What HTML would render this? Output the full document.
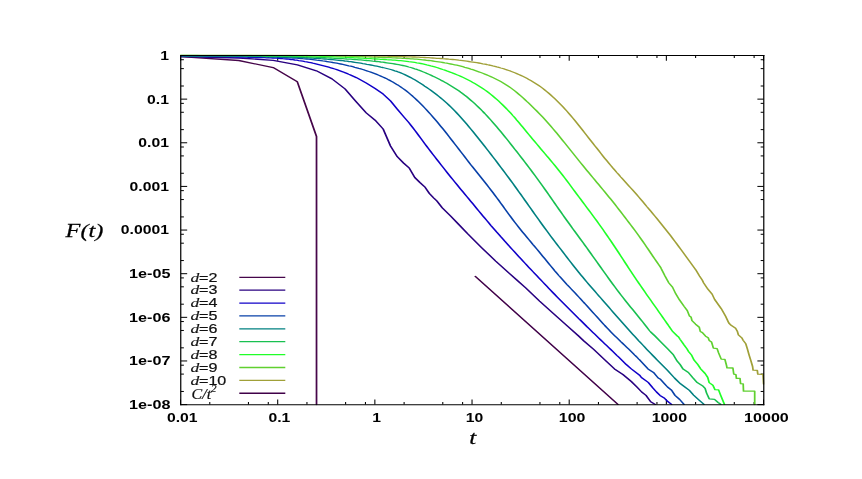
<!DOCTYPE html>
<html><head><meta charset="utf-8"><title>F(t)</title>
<style>html,body{margin:0;padding:0;background:#fff}svg{display:block}text{font-family:"Liberation Sans",sans-serif}.b{font-weight:bold;font-size:12.7px;fill:#000}.s{font-family:"Liberation Serif",serif;font-style:italic}.l{font-size:12.6px;fill:#111;stroke:#111;stroke-width:0.22px}</style></head><body>
<svg width="862" height="479" viewBox="0 0 862 479" style="will-change:transform">
<rect width="862" height="479" fill="#fff"/>
<path d="M180.53,404.6v-5.2M180.53,55.5v5.2M209.78,404.6v-2.6M209.78,55.5v2.6M248.45,404.6v-2.6M248.45,55.5v2.6M268.28,404.6v-2.6M268.28,55.5v2.6M277.70,404.6v-5.2M277.70,55.5v5.2M306.95,404.6v-2.6M306.95,55.5v2.6M345.61,404.6v-2.6M345.61,55.5v2.6M365.45,404.6v-2.6M365.45,55.5v2.6M374.86,404.6v-5.2M374.86,55.5v5.2M404.11,404.6v-2.6M404.11,55.5v2.6M442.78,404.6v-2.6M442.78,55.5v2.6M462.61,404.6v-2.6M462.61,55.5v2.6M472.03,404.6v-5.2M472.03,55.5v5.2M501.28,404.6v-2.6M501.28,55.5v2.6M539.95,404.6v-2.6M539.95,55.5v2.6M559.78,404.6v-2.6M559.78,55.5v2.6M569.20,404.6v-5.2M569.20,55.5v5.2M598.45,404.6v-2.6M598.45,55.5v2.6M637.11,404.6v-2.6M637.11,55.5v2.6M656.95,404.6v-2.6M656.95,55.5v2.6M666.36,404.6v-5.2M666.36,55.5v5.2M695.61,404.6v-2.6M695.61,55.5v2.6M734.28,404.6v-2.6M734.28,55.5v2.6M754.11,404.6v-2.6M754.11,55.5v2.6M763.53,404.6v-5.2M763.53,55.5v5.2" stroke="#000" stroke-width="1.05" fill="none"/>
<path d="M180.78,404.60h6.4M763.78,404.60h-6.4M180.78,391.46h3.1M763.78,391.46h-3.1M180.78,374.10h3.1M763.78,374.10h-3.1M180.78,365.19h3.1M763.78,365.19h-3.1M180.78,360.96h6.4M763.78,360.96h-6.4M180.78,347.83h3.1M763.78,347.83h-3.1M180.78,330.46h3.1M763.78,330.46h-3.1M180.78,321.55h3.1M763.78,321.55h-3.1M180.78,317.33h6.4M763.78,317.33h-6.4M180.78,304.19h3.1M763.78,304.19h-3.1M180.78,286.82h3.1M763.78,286.82h-3.1M180.78,277.92h3.1M763.78,277.92h-3.1M180.78,273.69h6.4M763.78,273.69h-6.4M180.78,260.55h3.1M763.78,260.55h-3.1M180.78,243.19h3.1M763.78,243.19h-3.1M180.78,234.28h3.1M763.78,234.28h-3.1M180.78,230.05h6.4M763.78,230.05h-6.4M180.78,216.91h3.1M763.78,216.91h-3.1M180.78,199.55h3.1M763.78,199.55h-3.1M180.78,190.64h3.1M763.78,190.64h-3.1M180.78,186.41h6.4M763.78,186.41h-6.4M180.78,173.28h3.1M763.78,173.28h-3.1M180.78,155.91h3.1M763.78,155.91h-3.1M180.78,147.00h3.1M763.78,147.00h-3.1M180.78,142.78h6.4M763.78,142.78h-6.4M180.78,129.64h3.1M763.78,129.64h-3.1M180.78,112.27h3.1M763.78,112.27h-3.1M180.78,103.37h3.1M763.78,103.37h-3.1M180.78,99.14h6.4M763.78,99.14h-6.4M180.78,86.00h3.1M763.78,86.00h-3.1M180.78,68.64h3.1M763.78,68.64h-3.1M180.78,59.73h3.1M763.78,59.73h-3.1M180.78,55.50h6.4M763.78,55.50h-6.4" stroke="#000" stroke-width="1.0" fill="none"/>
<clipPath id="c"><rect x="179.98" y="54.78" width="584.6" height="350.62"/></clipPath>
<g clip-path="url(#c)"><g transform="scale(1.347,1)">
<polyline points="134.21,56.7 177.27,60.5 202.82,67.6 220.74,81.8 234.98,136.5 234.98,404.6" fill="none" stroke="#46064a" stroke-width="1.3" stroke-linejoin="round" stroke-linecap="round"/>
<polyline points="134.21,56.5 177.27,58.0 202.82,60.3 220.77,64.8 234.90,70.8 246.47,78.9 256.13,88.9 264.50,101.8 271.88,112.9 278.48,120.2 284.45,129.0 289.90,146.0 294.92,156.7 299.56,163.0 303.89,168.2 307.93,177.5 311.73,182.5 315.31,186.8 318.70,193.4 321.91,197.8 324.28,200.9 328.36,207.9 334.60,216.2 340.24,224.0 347.29,233.9 357.68,247.8 368.00,261.1 378.32,273.6 383.67,280.0 390.27,287.8 400.59,301.1 410.91,313.6 421.31,326.1 429.55,336.0 433.48,341.0 440.76,349.4 449.00,359.8 456.20,368.9 462.44,374.5 468.67,381.5 472.75,386.8 476.39,392.0 479.58,395.4 483.07,401.8 486.49,404.4" fill="none" stroke="#280080" stroke-width="1.3" stroke-linejoin="round" stroke-linecap="round"/>
<polyline points="134.21,56.0 135.69,56.0 137.18,56.1 138.66,56.1 140.15,56.2 141.63,56.2 143.12,56.3 144.60,56.3 146.09,56.3 147.57,56.4 149.06,56.4 150.54,56.4 152.03,56.5 153.51,56.5 155.00,56.5 156.48,56.5 157.97,56.5 159.45,56.6 160.94,56.6 162.42,56.6 163.90,56.7 165.39,56.7 166.87,56.7 168.36,56.8 169.84,56.8 171.33,56.8 172.81,56.9 174.30,56.9 175.78,57.0 177.27,57.0 178.75,57.1 180.24,57.1 181.72,57.2 183.21,57.2 184.69,57.3 186.18,57.3 187.66,57.4 189.15,57.4 190.63,57.5 192.12,57.5 193.60,57.6 195.09,57.7 196.57,57.7 198.05,57.8 199.54,57.9 201.02,57.9 202.51,58.0 203.99,58.1 205.48,58.2 206.96,58.4 208.45,58.5 209.93,58.7 211.42,58.8 212.90,59.0 214.39,59.2 215.87,59.5 217.36,59.7 218.84,60.0 220.33,60.2 221.81,60.6 223.30,60.9 224.78,61.2 226.27,61.6 227.75,61.9 229.24,62.3 230.72,62.7 232.20,63.2 233.69,63.6 235.17,64.1 236.66,64.6 238.14,65.1 239.63,65.6 241.11,66.1 242.60,66.6 244.08,67.2 245.57,67.8 247.05,68.4 248.54,69.0 250.02,69.7 251.51,70.4 252.99,71.1 254.48,71.8 255.96,72.6 257.45,73.4 258.93,74.3 260.42,75.1 264.50,77.6 271.88,83.0 278.48,88.6 284.45,94.1 289.90,100.9 294.92,109.2 299.56,116.5 303.47,122.5 304.96,125.1 306.44,127.6 307.93,130.3 309.41,132.9 310.90,135.6 312.38,138.3 313.87,141.0 315.35,143.7 316.84,146.4 318.32,149.0 319.81,151.6 321.29,154.2 322.78,156.8 324.26,159.4 325.75,161.9 327.23,164.5 328.72,167.0 330.20,169.5 331.69,172.1 333.17,174.6 334.65,177.1 336.14,179.5 337.62,182.0 339.11,184.4 340.59,186.9 342.08,189.3 343.56,191.7 345.05,194.1 346.53,196.5 348.02,198.9 349.50,201.3 350.99,203.7 352.47,206.1 353.96,208.6 355.44,211.0 356.93,213.4 358.41,215.8 359.90,218.2 361.38,220.5 362.87,222.9 364.35,225.3 365.84,227.6 367.32,229.9 368.80,232.2 370.29,234.4 371.77,236.7 373.26,238.9 374.74,241.2 376.23,243.4 377.71,245.6 379.20,247.8 380.68,250.0 382.17,252.2 383.65,254.4 385.14,256.6 386.62,258.7 388.11,260.9 389.59,263.0 391.08,265.2 392.56,267.3 394.05,269.4 395.53,271.5 397.02,273.6 398.50,275.7 399.99,277.8 401.47,279.9 402.95,282.0 404.44,284.1 405.92,286.2 407.41,288.3 408.89,290.4 410.38,292.5 411.86,294.5 413.35,296.6 414.83,298.6 416.32,300.6 417.80,302.6 419.29,304.6 420.77,306.6 422.26,308.6 423.74,310.6 425.23,312.6 426.71,314.6 428.20,316.6 429.68,318.6 431.17,320.5 432.65,322.5 434.14,324.5 435.62,326.5 437.10,328.4 438.59,330.4 440.07,332.3 441.56,334.2 443.04,336.1 444.53,338.1 446.01,340.0 447.50,341.9 448.98,343.8 450.47,345.7 451.95,347.6 453.44,349.5 454.92,351.4 456.41,353.3 457.89,355.3 459.38,357.2 460.86,359.2 462.35,361.2 463.83,363.1 464.51,364.0 468.67,368.9 474.83,375.2 476.17,377.5 481.22,382.4 484.48,387.7 487.38,392.0 489.98,395.4 493.39,398.3 495.99,401.8 498.59,404.4" fill="none" stroke="#1000c8" stroke-width="1.3" stroke-linejoin="round" stroke-linecap="round"/>
<polyline points="134.21,55.8 135.69,55.8 137.18,55.8 138.66,55.9 140.15,55.9 141.63,55.9 143.12,55.9 144.60,56.0 146.09,56.0 147.57,56.0 149.06,56.0 150.54,56.0 152.03,56.0 153.51,56.1 155.00,56.1 156.48,56.1 157.97,56.1 159.45,56.1 160.94,56.1 162.42,56.1 163.90,56.2 165.39,56.2 166.87,56.2 168.36,56.2 169.84,56.2 171.33,56.3 172.81,56.3 174.30,56.3 175.78,56.3 177.27,56.4 178.75,56.4 180.24,56.4 181.72,56.4 183.21,56.5 184.69,56.5 186.18,56.5 187.66,56.6 189.15,56.6 190.63,56.7 192.12,56.7 193.60,56.7 195.09,56.8 196.57,56.8 198.05,56.9 199.54,57.0 201.02,57.0 202.51,57.1 203.99,57.1 205.48,57.2 206.96,57.3 208.45,57.4 209.93,57.5 211.42,57.6 212.90,57.6 214.39,57.8 215.87,57.9 217.36,58.0 218.84,58.1 220.33,58.2 221.81,58.4 223.30,58.5 224.78,58.7 226.27,58.8 227.75,59.0 229.24,59.2 230.72,59.4 232.20,59.6 233.69,59.8 235.17,60.1 236.66,60.3 238.14,60.6 239.63,60.9 241.11,61.1 242.60,61.5 244.08,61.8 245.57,62.1 247.05,62.5 248.54,62.8 250.02,63.2 251.51,63.6 252.99,64.0 254.48,64.4 255.96,64.8 257.45,65.3 258.93,65.8 260.42,66.2 261.90,66.7 263.39,67.3 264.87,67.8 266.35,68.4 267.84,68.9 269.32,69.5 270.81,70.2 272.29,70.8 273.78,71.5 275.26,72.2 276.75,72.9 278.23,73.6 279.72,74.4 281.20,75.2 282.69,76.1 284.17,77.0 285.66,77.9 287.14,78.8 288.63,79.9 290.11,80.9 291.60,82.0 293.08,83.2 294.57,84.4 296.05,85.6 297.54,87.0 299.02,88.4 300.50,89.8 301.99,91.3 303.47,92.9 304.96,94.6 306.44,96.3 307.93,98.1 309.41,100.0 310.90,101.9 312.38,103.9 313.87,105.9 315.35,108.0 316.84,110.1 318.32,112.3 319.81,114.5 321.29,116.8 322.78,119.1 324.26,121.4 325.75,123.8 327.23,126.3 328.72,128.7 330.20,131.2 331.69,133.7 333.17,136.3 334.65,138.8 336.14,141.4 337.62,144.0 339.11,146.5 340.59,149.1 342.08,151.7 343.56,154.3 345.05,156.9 346.53,159.5 348.02,162.1 349.50,164.7 350.99,167.2 352.47,169.7 353.96,172.2 355.44,174.7 356.93,177.2 358.41,179.7 359.90,182.2 361.38,184.7 362.87,187.3 364.35,189.8 365.84,192.4 367.32,195.1 368.80,197.7 370.29,200.4 371.77,203.2 373.26,205.9 374.74,208.7 376.23,211.5 377.71,214.2 379.20,216.9 380.68,219.6 382.17,222.2 383.65,224.8 385.14,227.3 386.62,229.8 388.11,232.3 389.59,234.7 391.08,237.1 392.56,239.5 394.05,241.9 395.53,244.3 397.02,246.6 398.50,249.0 399.99,251.4 401.47,253.8 402.95,256.3 404.44,258.7 405.92,261.1 407.41,263.6 408.89,266.0 410.38,268.4 411.86,270.8 413.35,273.1 414.83,275.5 416.32,277.7 417.80,279.9 419.29,282.1 420.77,284.3 422.26,286.4 423.74,288.5 425.23,290.6 426.71,292.7 428.20,294.9 429.68,297.0 431.17,299.2 432.65,301.4 434.14,303.5 435.62,305.7 437.10,307.9 438.59,310.1 440.07,312.3 441.56,314.5 443.04,316.7 444.53,318.9 446.01,321.1 447.50,323.3 448.98,325.5 450.47,327.6 451.95,329.7 453.44,331.8 454.92,333.8 456.41,335.8 457.89,337.7 459.38,339.6 460.86,341.6 462.35,343.5 463.83,345.4 465.32,347.3 466.80,349.2 468.29,351.1 469.77,353.1 471.25,355.1 472.74,357.0 474.22,359.1 474.83,359.8 481.07,368.9 485.15,372.4 488.64,378.0 490.35,379.3 493.39,383.8 495.55,387.0 498.59,390.2 501.11,395.4 504.60,399.5 507.80,404.4" fill="none" stroke="#0840a8" stroke-width="1.3" stroke-linejoin="round" stroke-linecap="round"/>
<polyline points="134.21,55.7 135.69,55.7 137.18,55.7 138.66,55.8 140.15,55.8 141.63,55.8 143.12,55.8 144.60,55.8 146.09,55.8 147.57,55.8 149.06,55.9 150.54,55.9 152.03,55.9 153.51,55.9 155.00,55.9 156.48,55.9 157.97,55.9 159.45,55.9 160.94,55.9 162.42,55.9 163.90,56.0 165.39,56.0 166.87,56.0 168.36,56.0 169.84,56.0 171.33,56.0 172.81,56.0 174.30,56.1 175.78,56.1 177.27,56.1 178.75,56.1 180.24,56.1 181.72,56.2 183.21,56.2 184.69,56.2 186.18,56.2 187.66,56.2 189.15,56.3 190.63,56.3 192.12,56.3 193.60,56.4 195.09,56.4 196.57,56.4 198.05,56.5 199.54,56.5 201.02,56.6 202.51,56.6 203.99,56.6 205.48,56.7 206.96,56.7 208.45,56.8 209.93,56.9 211.42,56.9 212.90,57.0 214.39,57.0 215.87,57.1 217.36,57.2 218.84,57.3 220.33,57.3 221.81,57.4 223.30,57.5 224.78,57.6 226.27,57.7 227.75,57.8 229.24,57.9 230.72,58.0 232.20,58.1 233.69,58.3 235.17,58.4 236.66,58.5 238.14,58.7 239.63,58.8 241.11,59.0 242.60,59.2 244.08,59.3 245.57,59.5 247.05,59.7 248.54,59.9 250.02,60.1 251.51,60.3 252.99,60.5 254.48,60.7 255.96,61.0 257.45,61.2 258.93,61.5 260.42,61.7 261.90,62.0 263.39,62.3 264.87,62.6 266.35,62.9 267.84,63.2 269.32,63.6 270.81,63.9 272.29,64.3 273.78,64.6 275.26,65.0 276.75,65.4 278.23,65.8 279.72,66.2 281.20,66.6 282.69,67.1 284.17,67.5 285.66,68.0 287.14,68.5 288.63,69.0 290.11,69.5 291.60,70.1 293.08,70.8 294.57,71.4 296.05,72.2 297.54,72.9 299.02,73.7 300.50,74.6 301.99,75.6 303.47,76.6 304.96,77.6 306.44,78.7 307.93,79.8 309.41,81.0 310.90,82.3 312.38,83.5 313.87,84.8 315.35,86.2 316.84,87.5 318.32,88.9 319.81,90.3 321.29,91.8 322.78,93.3 324.26,94.8 325.75,96.4 327.23,98.0 328.72,99.6 330.20,101.4 331.69,103.2 333.17,105.0 334.65,106.9 336.14,108.9 337.62,110.9 339.11,113.0 340.59,115.1 342.08,117.3 343.56,119.6 345.05,121.9 346.53,124.2 348.02,126.6 349.50,129.0 350.99,131.4 352.47,133.9 353.96,136.4 355.44,138.9 356.93,141.4 358.41,143.9 359.90,146.4 361.38,149.0 362.87,151.5 364.35,154.1 365.84,156.7 367.32,159.3 368.80,161.9 370.29,164.6 371.77,167.2 373.26,169.9 374.74,172.5 376.23,175.2 377.71,177.9 379.20,180.6 380.68,183.3 382.17,186.1 383.65,188.9 385.14,191.7 386.62,194.4 388.11,197.2 389.59,200.1 391.08,202.9 392.56,205.7 394.05,208.5 395.53,211.4 397.02,214.2 398.50,217.0 399.99,219.8 401.47,222.6 402.95,225.4 404.44,228.1 405.92,230.8 407.41,233.5 408.89,236.2 410.38,238.9 411.86,241.5 413.35,244.1 414.83,246.7 416.32,249.3 417.80,251.9 419.29,254.5 420.77,257.1 422.26,259.7 423.74,262.3 425.23,264.9 426.71,267.4 428.20,269.9 429.68,272.4 431.17,274.8 432.65,277.2 434.14,279.6 435.62,282.0 437.10,284.3 438.59,286.6 440.07,288.9 441.56,291.2 443.04,293.5 444.53,295.8 446.01,298.0 447.50,300.3 448.98,302.6 450.47,304.9 451.95,307.2 453.44,309.5 454.92,311.8 456.41,314.1 457.89,316.4 459.38,318.7 460.86,320.9 462.35,323.2 463.83,325.4 465.32,327.7 466.80,329.9 468.29,332.1 469.77,334.3 471.25,336.4 472.74,338.6 474.22,340.8 475.71,342.9 477.19,345.0 478.68,347.2 480.16,349.3 481.65,351.4 483.13,353.4 484.62,355.5 486.10,357.5 487.59,359.6 489.07,361.6 490.56,363.6 492.04,365.6 493.53,367.6 495.01,369.6 495.55,370.3 500.74,378.0 501.86,379.5 505.20,383.8 508.69,387.3 511.80,390.4 514.92,395.1 518.78,399.8 522.64,404.3" fill="none" stroke="#008080" stroke-width="1.3" stroke-linejoin="round" stroke-linecap="round"/>
<polyline points="134.21,55.4 135.69,55.5 137.18,55.5 138.66,55.5 140.15,55.5 141.63,55.5 143.12,55.5 144.60,55.5 146.09,55.5 147.57,55.5 149.06,55.6 150.54,55.6 152.03,55.6 153.51,55.6 155.00,55.6 156.48,55.6 157.97,55.6 159.45,55.6 160.94,55.6 162.42,55.6 163.90,55.6 165.39,55.6 166.87,55.6 168.36,55.6 169.84,55.7 171.33,55.7 172.81,55.7 174.30,55.7 175.78,55.7 177.27,55.7 178.75,55.7 180.24,55.7 181.72,55.8 183.21,55.8 184.69,55.8 186.18,55.8 187.66,55.8 189.15,55.8 190.63,55.9 192.12,55.9 193.60,55.9 195.09,55.9 196.57,56.0 198.05,56.0 199.54,56.0 201.02,56.0 202.51,56.1 203.99,56.1 205.48,56.1 206.96,56.2 208.45,56.2 209.93,56.2 211.42,56.3 212.90,56.3 214.39,56.4 215.87,56.4 217.36,56.5 218.84,56.5 220.33,56.6 221.81,56.6 223.30,56.7 224.78,56.7 226.27,56.8 227.75,56.9 229.24,57.0 230.72,57.0 232.20,57.1 233.69,57.2 235.17,57.3 236.66,57.4 238.14,57.5 239.63,57.6 241.11,57.7 242.60,57.8 244.08,57.9 245.57,58.0 247.05,58.1 248.54,58.3 250.02,58.4 251.51,58.5 252.99,58.6 254.48,58.7 255.96,58.8 257.45,59.0 258.93,59.1 260.42,59.2 261.90,59.4 263.39,59.5 264.87,59.6 266.35,59.8 267.84,59.9 269.32,60.1 270.81,60.3 272.29,60.5 273.78,60.6 275.26,60.8 276.75,61.1 278.23,61.3 279.72,61.5 281.20,61.7 282.69,62.0 284.17,62.2 285.66,62.5 287.14,62.8 288.63,63.1 290.11,63.4 291.60,63.7 293.08,64.0 294.57,64.3 296.05,64.7 297.54,65.1 299.02,65.5 300.50,65.9 301.99,66.4 303.47,67.0 304.96,67.5 306.44,68.1 307.93,68.8 309.41,69.4 310.90,70.2 312.38,70.9 313.87,71.7 315.35,72.5 316.84,73.4 318.32,74.2 319.81,75.1 321.29,76.1 322.78,77.0 324.26,78.0 325.75,79.0 327.23,80.1 328.72,81.1 330.20,82.2 331.69,83.3 333.17,84.5 334.65,85.7 336.14,86.9 337.62,88.2 339.11,89.5 340.59,90.8 342.08,92.3 343.56,93.7 345.05,95.3 346.53,96.8 348.02,98.5 349.50,100.2 350.99,101.9 352.47,103.7 353.96,105.6 355.44,107.5 356.93,109.4 358.41,111.5 359.90,113.5 361.38,115.6 362.87,117.8 364.35,120.0 365.84,122.3 367.32,124.6 368.80,126.9 370.29,129.3 371.77,131.7 373.26,134.1 374.74,136.6 376.23,139.0 377.71,141.5 379.20,144.1 380.68,146.6 382.17,149.2 383.65,151.7 385.14,154.3 386.62,156.8 388.11,159.4 389.59,162.0 391.08,164.6 392.56,167.3 394.05,169.9 395.53,172.6 397.02,175.3 398.50,178.0 399.99,180.7 401.47,183.5 402.95,186.3 404.44,189.1 405.92,191.9 407.41,194.8 408.89,197.6 410.38,200.5 411.86,203.4 413.35,206.2 414.83,209.1 416.32,211.9 417.80,214.7 419.29,217.6 420.77,220.4 422.26,223.1 423.74,225.9 425.23,228.7 426.71,231.4 428.20,234.1 429.68,236.9 431.17,239.6 432.65,242.3 434.14,245.1 435.62,247.8 437.10,250.6 438.59,253.4 440.07,256.2 441.56,259.0 443.04,261.8 444.53,264.6 446.01,267.4 447.50,270.2 448.98,273.0 450.47,275.8 451.95,278.6 453.44,281.4 454.92,284.1 456.41,286.8 457.89,289.5 459.38,292.1 460.86,294.7 462.35,297.3 463.83,299.8 465.32,302.3 466.80,304.8 468.29,307.3 469.77,309.7 471.25,312.2 472.74,314.6 474.22,317.1 475.71,319.6 477.19,322.0 478.68,324.6 480.16,327.1 481.65,329.7 482.39,331.0 483.07,332.0 486.27,336.0 490.35,341.7 495.55,348.7 499.63,354.3 502.75,361.2 504.83,364.4 507.13,369.1 511.06,372.5 514.11,377.4 517.59,382.6 521.46,385.7 523.46,388.4 524.57,393.1 526.50,398.8 530.44,399.3 533.11,402.5 535.04,404.3" fill="none" stroke="#18c050" stroke-width="1.3" stroke-linejoin="round" stroke-linecap="round"/>
<polyline points="134.21,55.2 135.69,55.2 137.18,55.2 138.66,55.2 140.15,55.2 141.63,55.2 143.12,55.2 144.60,55.2 146.09,55.2 147.57,55.3 149.06,55.3 150.54,55.3 152.03,55.3 153.51,55.3 155.00,55.3 156.48,55.3 157.97,55.3 159.45,55.3 160.94,55.3 162.42,55.3 163.90,55.3 165.39,55.3 166.87,55.3 168.36,55.3 169.84,55.3 171.33,55.3 172.81,55.3 174.30,55.3 175.78,55.3 177.27,55.3 178.75,55.4 180.24,55.4 181.72,55.4 183.21,55.4 184.69,55.4 186.18,55.4 187.66,55.4 189.15,55.4 190.63,55.4 192.12,55.4 193.60,55.4 195.09,55.5 196.57,55.5 198.05,55.5 199.54,55.5 201.02,55.5 202.51,55.5 203.99,55.6 205.48,55.6 206.96,55.6 208.45,55.6 209.93,55.6 211.42,55.7 212.90,55.7 214.39,55.7 215.87,55.7 217.36,55.7 218.84,55.8 220.33,55.8 221.81,55.8 223.30,55.9 224.78,55.9 226.27,55.9 227.75,56.0 229.24,56.0 230.72,56.1 232.20,56.1 233.69,56.1 235.17,56.2 236.66,56.2 238.14,56.3 239.63,56.4 241.11,56.4 242.60,56.5 244.08,56.5 245.57,56.6 247.05,56.7 248.54,56.8 250.02,56.8 251.51,56.9 252.99,57.0 254.48,57.1 255.96,57.2 257.45,57.3 258.93,57.4 260.42,57.6 261.90,57.7 263.39,57.8 264.87,57.9 266.35,58.0 267.84,58.1 269.32,58.2 270.81,58.3 272.29,58.5 273.78,58.6 275.26,58.7 276.75,58.8 278.23,58.9 279.72,59.0 281.20,59.1 282.69,59.3 284.17,59.4 285.66,59.5 287.14,59.7 288.63,59.8 290.11,59.9 291.60,60.1 293.08,60.2 294.57,60.4 296.05,60.6 297.54,60.7 299.02,60.9 300.50,61.1 301.99,61.3 303.47,61.6 304.96,61.8 306.44,62.1 307.93,62.4 309.41,62.8 310.90,63.1 312.38,63.5 313.87,63.9 315.35,64.4 316.84,64.9 318.32,65.3 319.81,65.9 321.29,66.4 322.78,66.9 324.26,67.5 325.75,68.2 327.23,68.8 328.72,69.5 330.20,70.1 331.69,70.9 333.17,71.6 334.65,72.3 336.14,73.1 337.62,73.9 339.11,74.7 340.59,75.5 342.08,76.4 343.56,77.3 345.05,78.2 346.53,79.2 348.02,80.2 349.50,81.3 350.99,82.4 352.47,83.5 353.96,84.7 355.44,85.9 356.93,87.2 358.41,88.5 359.90,89.9 361.38,91.3 362.87,92.8 364.35,94.4 365.84,96.0 367.32,97.7 368.80,99.4 370.29,101.2 371.77,103.1 373.26,105.0 374.74,107.0 376.23,109.0 377.71,111.1 379.20,113.2 380.68,115.5 382.17,117.7 383.65,120.1 385.14,122.4 386.62,124.8 388.11,127.2 389.59,129.6 391.08,132.1 392.56,134.5 394.05,136.9 395.53,139.3 397.02,141.7 398.50,144.0 399.99,146.4 401.47,148.8 402.95,151.2 404.44,153.5 405.92,155.9 407.41,158.2 408.89,160.6 410.38,163.0 411.86,165.4 413.35,167.8 414.83,170.3 416.32,172.8 417.80,175.4 419.29,178.0 420.77,180.6 422.26,183.3 423.74,186.0 425.23,188.7 426.71,191.4 428.20,194.1 429.68,196.8 431.17,199.4 432.65,202.1 434.14,204.8 435.62,207.5 437.10,210.1 438.59,212.8 440.07,215.5 441.56,218.2 443.04,220.9 444.53,223.7 446.01,226.5 447.50,229.3 448.98,232.2 450.47,235.1 451.95,238.0 453.44,240.9 454.92,243.9 456.41,246.9 457.89,249.9 459.38,252.9 460.86,256.0 462.35,259.0 463.83,262.1 465.32,265.1 466.80,268.2 468.29,271.2 469.77,274.2 471.25,277.2 472.74,280.2 474.22,283.1 475.71,286.0 477.19,288.9 478.68,291.8 480.16,294.7 481.65,297.5 483.13,300.3 484.62,303.2 486.10,306.0 487.59,308.8 489.07,311.7 490.56,314.5 492.04,317.4 493.53,320.2 495.01,323.1 496.50,325.9 496.59,326.1 499.48,331.7 502.82,336.0 503.79,336.9 504.83,339.3 506.90,343.1 507.94,345.1 509.95,348.7 511.06,351.3 513.36,355.0 515.29,360.2 517.97,364.4 520.34,369.1 523.46,373.5 525.39,377.4 526.50,382.6 529.25,385.2 530.81,389.7 533.48,389.9 534.67,394.1 536.23,399.3 537.79,404.3" fill="none" stroke="#20ff28" stroke-width="1.3" stroke-linejoin="round" stroke-linecap="round"/>
<polyline points="134.21,55.2 135.69,55.2 137.18,55.2 138.66,55.2 140.15,55.2 141.63,55.2 143.12,55.2 144.60,55.2 146.09,55.2 147.57,55.2 149.06,55.2 150.54,55.2 152.03,55.2 153.51,55.2 155.00,55.2 156.48,55.2 157.97,55.2 159.45,55.2 160.94,55.2 162.42,55.2 163.90,55.2 165.39,55.2 166.87,55.2 168.36,55.2 169.84,55.2 171.33,55.2 172.81,55.2 174.30,55.2 175.78,55.2 177.27,55.2 178.75,55.2 180.24,55.2 181.72,55.2 183.21,55.2 184.69,55.2 186.18,55.2 187.66,55.3 189.15,55.3 190.63,55.3 192.12,55.3 193.60,55.3 195.09,55.3 196.57,55.3 198.05,55.3 199.54,55.3 201.02,55.3 202.51,55.3 203.99,55.3 205.48,55.3 206.96,55.3 208.45,55.4 209.93,55.4 211.42,55.4 212.90,55.4 214.39,55.4 215.87,55.4 217.36,55.4 218.84,55.4 220.33,55.4 221.81,55.5 223.30,55.5 224.78,55.5 226.27,55.5 227.75,55.5 229.24,55.6 230.72,55.6 232.20,55.6 233.69,55.6 235.17,55.6 236.66,55.7 238.14,55.7 239.63,55.7 241.11,55.7 242.60,55.8 244.08,55.8 245.57,55.8 247.05,55.9 248.54,55.9 250.02,56.0 251.51,56.0 252.99,56.0 254.48,56.1 255.96,56.1 257.45,56.2 258.93,56.2 260.42,56.3 261.90,56.4 263.39,56.4 264.87,56.5 266.35,56.6 267.84,56.6 269.32,56.7 270.81,56.8 272.29,56.9 273.78,56.9 275.26,57.0 276.75,57.1 278.23,57.2 279.72,57.2 281.20,57.3 282.69,57.4 284.17,57.5 285.66,57.5 287.14,57.6 288.63,57.7 290.11,57.7 291.60,57.8 293.08,57.9 294.57,58.0 296.05,58.1 297.54,58.2 299.02,58.3 300.50,58.4 301.99,58.5 303.47,58.6 304.96,58.8 306.44,58.9 307.93,59.1 309.41,59.2 310.90,59.4 312.38,59.6 313.87,59.8 315.35,60.0 316.84,60.3 318.32,60.5 319.81,60.7 321.29,61.0 322.78,61.3 324.26,61.6 325.75,61.9 327.23,62.2 328.72,62.5 330.20,62.9 331.69,63.2 333.17,63.6 334.65,64.0 336.14,64.4 337.62,64.8 339.11,65.2 340.59,65.7 342.08,66.2 343.56,66.7 345.05,67.3 346.53,67.8 348.02,68.4 349.50,69.1 350.99,69.7 352.47,70.4 353.96,71.1 355.44,71.8 356.93,72.5 358.41,73.3 359.90,74.1 361.38,74.9 362.87,75.7 364.35,76.6 365.84,77.5 367.32,78.5 368.80,79.5 370.29,80.5 371.77,81.6 373.26,82.7 374.74,83.9 376.23,85.2 377.71,86.5 379.20,87.9 380.68,89.4 382.17,90.9 383.65,92.5 385.14,94.2 386.62,95.9 388.11,97.7 389.59,99.5 391.08,101.4 392.56,103.2 394.05,105.2 395.53,107.1 397.02,109.1 398.50,111.0 399.99,113.1 401.47,115.1 402.95,117.2 404.44,119.4 405.92,121.6 407.41,123.9 408.89,126.1 410.38,128.5 411.86,130.8 413.35,133.2 414.83,135.7 416.32,138.1 417.80,140.6 419.29,143.0 420.77,145.5 422.26,148.0 423.74,150.5 425.23,153.0 426.71,155.5 428.20,158.0 429.68,160.5 431.17,163.0 432.65,165.4 434.14,167.8 435.62,170.3 437.10,172.7 438.59,175.1 440.07,177.5 441.56,179.9 443.04,182.3 444.53,184.7 446.01,187.1 447.50,189.5 448.98,191.9 450.47,194.3 451.95,196.8 453.44,199.2 454.92,201.7 456.41,204.2 457.89,206.8 459.38,209.4 460.86,211.9 462.35,214.5 463.83,217.1 465.32,219.7 466.80,222.4 468.29,225.0 469.77,227.6 471.25,230.3 472.74,233.0 474.22,235.8 475.71,238.6 477.19,241.4 478.68,244.3 480.16,247.2 481.65,250.1 483.13,253.1 484.62,256.1 486.10,259.0 487.59,261.9 489.07,264.8 490.56,267.6 490.94,268.7 493.69,276.0 495.32,280.0 496.59,283.0 499.26,287.1 501.78,294.1 504.45,299.9 507.94,306.5 510.24,310.6 511.80,315.9 512.99,316.9 513.73,320.6 516.41,324.2 519.15,327.3 519.90,331.5 521.46,332.6 523.83,336.2 525.76,337.8 526.50,340.4 528.21,341.9 529.62,348.2 532.37,348.7 533.48,352.9 535.41,359.1 538.16,359.4 539.35,365.4 539.72,367.8 544.10,368.0 544.77,374.2 546.33,374.6 546.70,378.4 549.37,378.4 549.81,383.7 551.74,383.9 551.97,391.2 560.28,391.2 560.28,404.6" fill="none" stroke="#60d030" stroke-width="1.3" stroke-linejoin="round" stroke-linecap="round"/>
<polyline points="134.21,55.1 135.69,55.2 137.18,55.2 138.66,55.2 140.15,55.2 141.63,55.2 143.12,55.2 144.60,55.2 146.09,55.2 147.57,55.2 149.06,55.2 150.54,55.2 152.03,55.2 153.51,55.2 155.00,55.2 156.48,55.2 157.97,55.2 159.45,55.2 160.94,55.2 162.42,55.2 163.90,55.2 165.39,55.2 166.87,55.2 168.36,55.2 169.84,55.2 171.33,55.2 172.81,55.2 174.30,55.2 175.78,55.2 177.27,55.2 178.75,55.2 180.24,55.2 181.72,55.2 183.21,55.2 184.69,55.2 186.18,55.2 187.66,55.2 189.15,55.2 190.63,55.2 192.12,55.2 193.60,55.2 195.09,55.2 196.57,55.2 198.05,55.2 199.54,55.2 201.02,55.2 202.51,55.2 203.99,55.2 205.48,55.2 206.96,55.2 208.45,55.2 209.93,55.2 211.42,55.2 212.90,55.2 214.39,55.2 215.87,55.2 217.36,55.3 218.84,55.3 220.33,55.3 221.81,55.3 223.30,55.3 224.78,55.3 226.27,55.3 227.75,55.3 229.24,55.3 230.72,55.3 232.20,55.3 233.69,55.3 235.17,55.3 236.66,55.3 238.14,55.4 239.63,55.4 241.11,55.4 242.60,55.4 244.08,55.4 245.57,55.4 247.05,55.4 248.54,55.4 250.02,55.5 251.51,55.5 252.99,55.5 254.48,55.5 255.96,55.5 257.45,55.5 258.93,55.6 260.42,55.6 261.90,55.6 263.39,55.6 264.87,55.7 266.35,55.7 267.84,55.7 269.32,55.7 270.81,55.8 272.29,55.8 273.78,55.8 275.26,55.9 276.75,55.9 278.23,55.9 279.72,56.0 281.20,56.0 282.69,56.1 284.17,56.1 285.66,56.2 287.14,56.2 288.63,56.3 290.11,56.3 291.60,56.4 293.08,56.4 294.57,56.5 296.05,56.6 297.54,56.6 299.02,56.7 300.50,56.7 301.99,56.8 303.47,56.8 304.96,56.9 306.44,57.0 307.93,57.0 309.41,57.1 310.90,57.2 312.38,57.3 313.87,57.4 315.35,57.5 316.84,57.6 318.32,57.7 319.81,57.9 321.29,58.0 322.78,58.1 324.26,58.3 325.75,58.4 327.23,58.5 328.72,58.7 330.20,58.8 331.69,59.0 333.17,59.2 334.65,59.3 336.14,59.5 337.62,59.7 339.11,59.9 340.59,60.2 342.08,60.4 343.56,60.6 345.05,60.9 346.53,61.2 348.02,61.5 349.50,61.8 350.99,62.1 352.47,62.4 353.96,62.7 355.44,63.0 356.93,63.4 358.41,63.8 359.90,64.1 361.38,64.5 362.87,65.0 364.35,65.4 365.84,65.9 367.32,66.3 368.80,66.9 370.29,67.4 371.77,68.0 373.26,68.5 374.74,69.2 376.23,69.8 377.71,70.5 379.20,71.2 380.68,72.0 382.17,72.8 383.65,73.6 385.14,74.5 386.62,75.4 388.11,76.3 389.59,77.3 391.08,78.3 392.56,79.4 394.05,80.5 395.53,81.7 397.02,82.9 398.50,84.2 399.99,85.5 401.47,86.9 402.95,88.4 404.44,90.0 405.92,91.6 407.41,93.3 408.89,95.0 410.38,96.8 411.86,98.7 413.35,100.6 414.83,102.6 416.32,104.6 417.80,106.7 419.29,108.8 420.77,111.0 422.26,113.3 423.74,115.6 425.23,118.0 426.71,120.4 428.20,122.9 429.68,125.4 431.17,127.9 432.65,130.4 434.14,133.0 435.62,135.5 437.10,138.1 438.59,140.6 440.07,143.1 441.56,145.7 443.04,148.2 444.53,150.7 446.01,153.3 447.50,155.8 448.98,158.3 450.47,160.7 451.95,163.1 453.44,165.5 454.92,167.9 456.41,170.2 457.89,172.5 459.38,174.7 460.86,177.0 462.35,179.2 463.83,181.4 465.32,183.6 466.80,185.8 468.29,188.0 469.77,190.2 471.25,192.4 472.74,194.7 474.22,197.0 475.71,199.4 477.19,201.7 478.68,204.1 480.16,206.5 481.65,208.8 483.13,211.2 484.62,213.6 486.10,216.0 487.59,218.4 489.07,220.8 490.56,223.3 492.04,225.8 493.53,228.3 495.01,230.8 496.50,233.3 497.98,235.9 499.47,238.6 500.95,241.2 502.44,243.9 503.92,246.6 505.40,249.3 506.89,252.0 508.37,254.8 509.86,257.5 511.34,260.3 512.83,263.0 514.31,265.8 515.80,268.5 516.54,269.9 516.63,270.1 519.30,276.0 521.31,280.0 522.42,283.0 525.54,289.2 528.66,294.1 530.51,299.4 535.41,308.6 538.68,316.2 541.05,323.0 542.76,325.3 546.10,328.3 547.36,331.2 548.18,334.8 550.71,337.8 551.67,340.2 553.67,343.8 554.79,348.7 555.98,354.4 557.54,361.2 558.72,366.5 559.09,370.2 562.21,370.4 562.58,374.1 566.44,374.3 566.89,384.0" fill="none" stroke="#a0a038" stroke-width="1.3" stroke-linejoin="round" stroke-linecap="round"/>
<polyline points="352.86,276.4 458.72,404.4" fill="none" stroke="#400048" stroke-width="1.3" stroke-linejoin="round" stroke-linecap="round"/>
</g></g>
<line x1="239.3" x2="285.3" y1="277.30" y2="277.30" stroke="#46064a" stroke-width="1.3"/>
<text class="s" font-size="13.5" fill="#111" stroke="#111" stroke-width="0.15" transform="translate(190.6,281.60) scale(1.3,1)">d</text>
<text class="l" transform="translate(199.0,281.60) scale(1.278,1)">=2</text>
<line x1="239.3" x2="285.3" y1="290.18" y2="290.18" stroke="#280080" stroke-width="1.3"/>
<text class="s" font-size="13.5" fill="#111" stroke="#111" stroke-width="0.15" transform="translate(190.6,294.48) scale(1.3,1)">d</text>
<text class="l" transform="translate(199.0,294.48) scale(1.278,1)">=3</text>
<line x1="239.3" x2="285.3" y1="303.07" y2="303.07" stroke="#1000c8" stroke-width="1.3"/>
<text class="s" font-size="13.5" fill="#111" stroke="#111" stroke-width="0.15" transform="translate(190.6,307.37) scale(1.3,1)">d</text>
<text class="l" transform="translate(199.0,307.37) scale(1.278,1)">=4</text>
<line x1="239.3" x2="285.3" y1="315.95" y2="315.95" stroke="#0840a8" stroke-width="1.3"/>
<text class="s" font-size="13.5" fill="#111" stroke="#111" stroke-width="0.15" transform="translate(190.6,320.25) scale(1.3,1)">d</text>
<text class="l" transform="translate(199.0,320.25) scale(1.278,1)">=5</text>
<line x1="239.3" x2="285.3" y1="328.83" y2="328.83" stroke="#008080" stroke-width="1.3"/>
<text class="s" font-size="13.5" fill="#111" stroke="#111" stroke-width="0.15" transform="translate(190.6,333.13) scale(1.3,1)">d</text>
<text class="l" transform="translate(199.0,333.13) scale(1.278,1)">=6</text>
<line x1="239.3" x2="285.3" y1="341.72" y2="341.72" stroke="#18c050" stroke-width="1.3"/>
<text class="s" font-size="13.5" fill="#111" stroke="#111" stroke-width="0.15" transform="translate(190.6,346.02) scale(1.3,1)">d</text>
<text class="l" transform="translate(199.0,346.02) scale(1.278,1)">=7</text>
<line x1="239.3" x2="285.3" y1="354.60" y2="354.60" stroke="#20ff28" stroke-width="1.3"/>
<text class="s" font-size="13.5" fill="#111" stroke="#111" stroke-width="0.15" transform="translate(190.6,358.90) scale(1.3,1)">d</text>
<text class="l" transform="translate(199.0,358.90) scale(1.278,1)">=8</text>
<line x1="239.3" x2="285.3" y1="367.48" y2="367.48" stroke="#60d030" stroke-width="1.3"/>
<text class="s" font-size="13.5" fill="#111" stroke="#111" stroke-width="0.15" transform="translate(190.6,371.78) scale(1.3,1)">d</text>
<text class="l" transform="translate(199.0,371.78) scale(1.278,1)">=9</text>
<line x1="239.3" x2="285.3" y1="380.36" y2="380.36" stroke="#a0a038" stroke-width="1.3"/>
<text class="s" font-size="13.5" fill="#111" stroke="#111" stroke-width="0.15" transform="translate(190.6,384.66) scale(1.3,1)">d</text>
<text class="l" transform="translate(199.0,384.66) scale(1.278,1)">=10</text>
<line x1="239.3" x2="285.3" y1="393.25" y2="393.25" stroke="#400048" stroke-width="1.3"/>
<text class="s" font-size="14.5" fill="#111" stroke="#111" stroke-width="0.2" transform="translate(191.6,399.2) scale(1.1,1)">C/t</text>
<text class="s" font-size="10" fill="#111" stroke="#111" stroke-width="0.15" transform="translate(210.8,392.0) scale(1.17,1)">2</text>
<path d="M180.75,55.0V405.2M763.78,55.0V405.2" stroke="#000" stroke-width="1.22" fill="none"/>
<path d="M180.15,55.52H764.4" stroke="#000" stroke-width="1.05" fill="none"/>
<path d="M180.15,404.7H764.4" stroke="#000" stroke-width="1.12" fill="none"/>
<text class="b" text-anchor="end" transform="translate(169.0,59.90) scale(1.24,1)">1</text>
<text class="b" text-anchor="end" transform="translate(169.0,103.54) scale(1.24,1)">0.1</text>
<text class="b" text-anchor="end" transform="translate(169.0,147.18) scale(1.24,1)">0.01</text>
<text class="b" text-anchor="end" transform="translate(169.0,190.81) scale(1.24,1)">0.001</text>
<text class="b" text-anchor="end" transform="translate(169.0,234.45) scale(1.24,1)">0.0001</text>
<text class="b" text-anchor="end" transform="translate(170.5,278.09) scale(1.275,1)">1e-05</text>
<text class="b" text-anchor="end" transform="translate(170.5,321.73) scale(1.275,1)">1e-06</text>
<text class="b" text-anchor="end" transform="translate(170.5,365.36) scale(1.275,1)">1e-07</text>
<text class="b" text-anchor="end" transform="translate(170.5,409.00) scale(1.275,1)">1e-08</text>
<text class="b" text-anchor="middle" transform="translate(182.23,421.8) scale(1.24,1)">0.01</text>
<text class="b" text-anchor="middle" transform="translate(279.40,421.8) scale(1.24,1)">0.1</text>
<text class="b" text-anchor="middle" transform="translate(376.56,421.8) scale(1.24,1)">1</text>
<text class="b" text-anchor="middle" transform="translate(474.53,421.8) scale(1.24,1)">10</text>
<text class="b" text-anchor="middle" transform="translate(572.15,421.8) scale(1.255,1)">100</text>
<text class="b" text-anchor="middle" transform="translate(669.31,421.8) scale(1.25,1)">1000</text>
<text class="b" text-anchor="middle" transform="translate(766.43,421.8) scale(1.268,1)">10000</text>
<text class="s" font-size="19" fill="#000" stroke="#000" stroke-width="0.25" transform="translate(65.6,236.6) scale(1.28,1)">F(t)</text>
<text class="s" font-size="19.5" fill="#000" stroke="#000" stroke-width="0.25" transform="translate(469.3,443.9) scale(1.28,1)">t</text>
</svg></body></html>
